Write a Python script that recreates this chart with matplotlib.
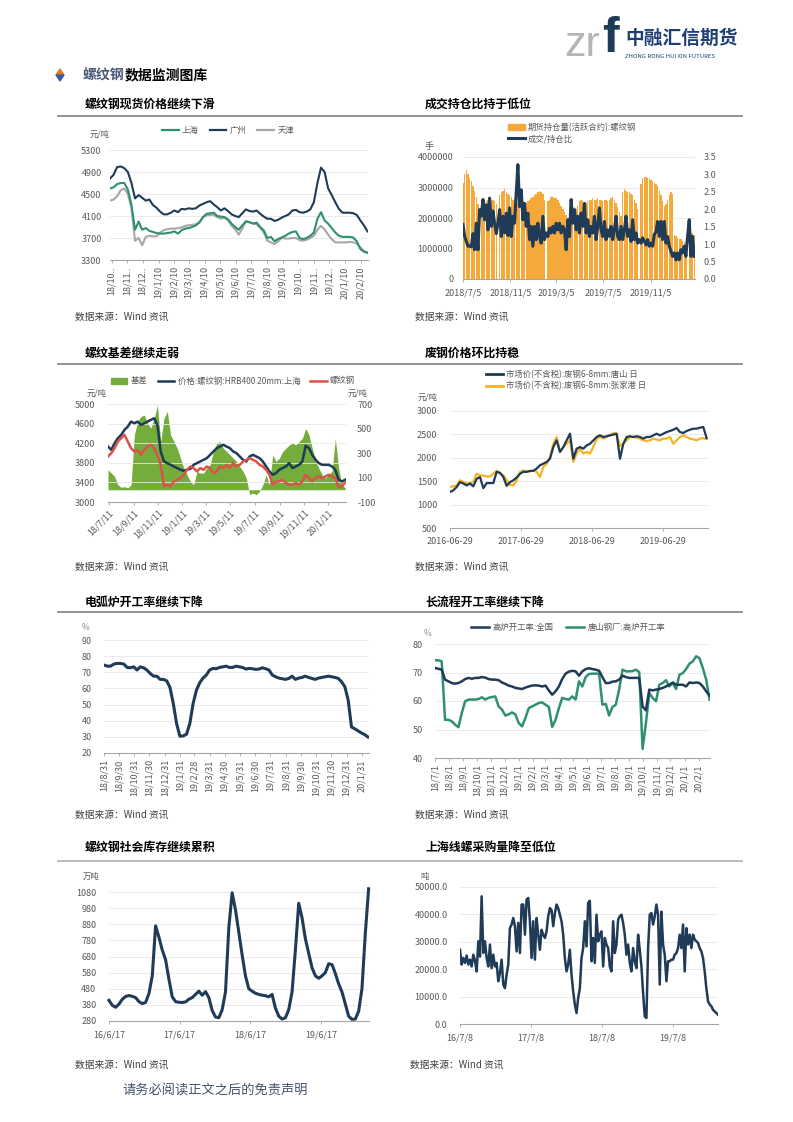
import numpy as np
import pandas as pd
import matplotlib
matplotlib.use("Agg")
import matplotlib.pyplot as plt
import matplotlib.dates as mdates
from matplotlib.lines import Line2D
from matplotlib.patches import Patch, Polygon
from matplotlib.ticker import FuncFormatter

plt.rcParams["font.family"] = ["Noto Sans CJK SC", "DejaVu Sans"]
plt.rcParams["axes.unicode_minus"] = False

# ---------------------------------------------------------------- colours
NAVY = "#1f3b57"
TEAL = "#2f8f74"
LGREY = "#a8a8a8"
ORANGE = "#f4a93a"
GOLD = "#f5b324"
GREEN = "#74ad3c"
RED = "#d9534a"
GRID = "#e6e6e6"
AXIS = "#a6a6a6"
TICK = "#595959"

# ---------------------------------------------------------------- data
# 1. rebar spot price, weekly (yuan/t)
p1_start, p1_end = "2018-10-07", "2020-02-23"
p1_guangzhou = [4780, 4850, 4990, 5000, 4970, 4900, 4700, 4420, 4480, 4430,
                4380, 4400, 4300, 4250, 4180, 4130, 4130, 4160, 4200, 4170,
                4230, 4220, 4240, 4230, 4240, 4290, 4320, 4350, 4370, 4310,
                4260, 4200, 4240, 4190, 4130, 4100, 4080, 4150, 4220, 4190,
                4180, 4200, 4140, 4090, 4050, 4050, 4010, 4030, 4070, 4100,
                4130, 4200, 4210, 4170, 4160, 4180, 4220, 4350, 4700, 4980,
                4900, 4600, 4480, 4350, 4230, 4160, 4160, 4160, 4150, 4120,
                4020, 3930, 3820]
p1_shanghai = [4600, 4620, 4680, 4700, 4700, 4580, 4300, 3850, 4000, 3850,
               3880, 3830, 3810, 3790, 3780, 3780, 3790, 3800, 3820, 3780,
               3840, 3870, 3880, 3900, 3930, 3980, 4080, 4140, 4150, 4160,
               4100, 4090, 4080, 4040, 3960, 3900, 3850, 3930, 4000, 3990,
               3960, 3980, 3900, 3840, 3700, 3720, 3640, 3680, 3710, 3740,
               3780, 3810, 3820, 3700, 3680, 3700, 3740, 3800, 4050, 4170,
               4020, 3960, 3880, 3800, 3740, 3720, 3720, 3720, 3710, 3640,
               3500, 3450, 3430]
p1_tianjin = [4380, 4400, 4460, 4570, 4600, 4500, 4250, 3650, 3700, 3570,
              3720, 3740, 3730, 3730, 3800, 3840, 3860, 3870, 3870, 3880,
              3890, 3920, 3930, 3940, 3950, 3990, 4080, 4110, 4120, 4120,
              4080, 4050, 4070, 4020, 3920, 3860, 3760, 3870, 4010, 3980,
              3970, 3950, 3880, 3800, 3650, 3620, 3590, 3640, 3700, 3690,
              3690, 3700, 3700, 3660, 3650, 3670, 3700, 3740, 3850, 3920,
              3860, 3760, 3680, 3620, 3620, 3620, 3620, 3630, 3620, 3600,
              3530, 3460, 3440]
p1_ticks = ["2018-10-10", "2018-11-10", "2018-12-10", "2019-01-10", "2019-02-10",
            "2019-03-10", "2019-04-10", "2019-05-10", "2019-06-10", "2019-07-10",
            "2019-08-10", "2019-09-10", "2019-10-10", "2019-11-10", "2019-12-10",
            "2020-01-10", "2020-02-10"]
p1_labels = ["18/10..", "18/11..", "18/12..", "19/1/10", "19/2/10", "19/3/10",
             "19/4/10", "19/5/10", "19/6/10", "19/7/10", "19/8/10", "19/9/10",
             "19/10..", "19/11..", "19/12..", "20/1/10", "20/2/10"]

# 2. open interest (million lots) and volume / open-interest ratio
p2_start, p2_end = "2018-07-05", "2020-02-26"
p2_oi_m = [3.15, 3.45, 3.58, 3.45, 3.3, 3.2, 3.05, 2.9, 2.7, 2.45,
           2.1, 2.0, 2.45, 2.5, 2.55, 2.6, 2.65, 2.6, 2.6, 2.55,
           2.45, 0, 2.75, 2.85, 2.9, 2.95, 2.85, 2.8, 2.75, 2.7,
           2.6, 2.65, 2.55, 2.5, 2.4, 2.35, 2.3, 2.25, 2.5, 2.55,
           2.6, 2.65, 2.7, 2.75, 2.8, 2.85, 2.9, 2.85, 2.8, 2.6,
           0, 2.55, 2.6, 2.7, 2.7, 2.65, 2.65, 2.6, 2.5, 2.4,
           2.3, 2.2, 2.1, 2.0, 2.35, 2.4, 2.4, 2.35, 2.3, 2.4,
           2.55, 2.6, 2.55, 2.5, 2.5, 2.55, 2.6, 2.6, 2.65, 2.6,
           2.6, 2.65, 2.6, 2.6, 2.55, 2.6, 2.6, 2.55, 2.6, 2.65,
           2.7, 2.6, 2.5, 2.35, 2.2, 2.05, 2.85, 2.95, 2.9, 2.85,
           2.85, 2.8, 2.75, 2.6, 2.5, 2.3, 0, 3.1, 3.3, 3.35,
           3.35, 3.3, 3.3, 3.25, 3.2, 3.15, 3.1, 3.05, 2.9, 2.75,
           2.55, 2.4, 2.45, 2.6, 2.75, 2.85, 2.8, 1.45, 1.4, 1.35,
           1.3, 1.3, 1.25, 1.2, 1.15, 0, 1.45, 1.5, 1.5, 1.45]
p2_ratio = [1.56, 1.22, 1.08, 0.94, 0.95, 0.92, 1.3, 0.84, 1.6, 0.84,
            1.99, 1.8, 2.28, 1.7, 2.13, 1.41, 2.32, 1.51, 1.95, 1.6,
            1.3, 1.6, 1.99, 1.22, 1.8, 1.32, 1.89, 1.25, 2.04, 1.22,
            1.8, 1.6, 2.47, 3.28, 2.08, 2.56, 1.7, 2.17, 1.51, 1.89,
            1.13, 1.51, 0.94, 1.51, 1.13, 1.6, 1.22, 1.03, 1.8, 1.13,
            1.32, 1.22, 1.46, 1.32, 1.51, 1.32, 1.6, 1.41, 1.6, 1.32,
            1.51, 1.41, 0.84, 1.7, 1.22, 2.28, 1.6, 1.99, 1.41, 1.8,
            1.32, 1.89, 1.51, 2.17, 1.32, 1.7, 1.22, 1.51, 1.32, 1.8,
            1.13, 1.51, 2.04, 1.41, 1.22, 1.65, 1.13, 1.41, 1.22, 1.51,
            1.13, 1.41, 1.8, 1.22, 1.13, 1.51, 1.13, 1.41, 1.8, 1.22,
            1.41, 1.08, 1.7, 1.13, 1.32, 1.03, 1.13, 1.03, 1.18, 1.08,
            0.98, 1.13, 0.94, 1.03, 0.94, 1.27, 1.36, 1.65, 1.22, 1.65,
            1.13, 1.65, 1.03, 1.22, 0.94, 0.8, 0.65, 0.75, 0.55, 0.75,
            0.55, 0.84, 0.75, 0.94, 0.65, 1.22, 1.7, 0.65, 1.22, 0.65]
p2_ticks = ["2018-07-05", "2018-11-05", "2019-03-05", "2019-07-05", "2019-11-05"]
p2_labels = ["2018/7/5", "2018/11/5", "2019/3/5", "2019/7/5", "2019/11/5"]

# 3. basis (right axis) and spot / futures price (left axis)
p3_start, p3_end = "2018-07-09", "2020-02-22"
p3_basis = [163, 136, 109, 41, 20, 25, 15, 40, 448, 560,
            597, 610, 543, 502, 583, 690, 394, 583, 640, 448,
            394, 339, 258, 177, 122, 68, 41, 150, 136, 136,
            177, 204, 312, 380, 394, 339, 312, 285, 258, 231,
            190, 150, 95, -40, -27, -40, -13, 41, 122, 41,
            285, 231, 258, 312, 339, 366, 380, 366, 394, 421,
            500, 448, 339, 231, 177, 122, 95, 122, 150, 421,
            177, 41, 14]
p3_spot = [4132, 4064, 4200, 4302, 4370, 4471, 4539, 4641, 4607, 4641,
           4573, 4607, 4641, 4675, 4709, 4573, 4031, 3827, 3793, 3759,
           3725, 3692, 3658, 3637, 3658, 3678, 3759, 3793, 3827, 3861,
           3895, 3963, 4031, 4098, 4132, 4166, 4132, 4098, 4031, 3997,
           3929, 3861, 3827, 3929, 3963, 3929, 3895, 3827, 3725, 3624,
           3556, 3590, 3658, 3692, 3725, 3793, 3692, 3725, 3759, 3827,
           4150, 4100, 3963, 3861, 3793, 3759, 3759, 3759, 3725, 3658,
           3454, 3420, 3454]
p3_fut = [3929, 3997, 4098, 4234, 4302, 4370, 4234, 4098, 4031, 4064,
          3963, 4064, 4132, 4166, 4098, 3963, 3759, 3319, 3353, 3319,
          3420, 3454, 3488, 3556, 3658, 3725, 3692, 3624, 3692, 3658,
          3725, 3692, 3590, 3624, 3725, 3692, 3759, 3692, 3793, 3725,
          3759, 3827, 3861, 3895, 3861, 3827, 3759, 3725, 3658, 3556,
          3353, 3420, 3420, 3454, 3387, 3353, 3353, 3387, 3353, 3420,
          3556, 3488, 3420, 3488, 3522, 3488, 3522, 3556, 3522, 3488,
          3300, 3319, 3400]
p3_ticks = ["2018-07-11", "2018-09-11", "2018-11-11", "2019-01-11", "2019-03-11",
            "2019-05-11", "2019-07-11", "2019-09-11", "2019-11-11", "2020-01-11"]
p3_labels = ["18/7/11", "18/9/11", "18/11/11", "19/1/11", "19/3/11",
             "19/5/11", "19/7/11", "19/9/11", "19/11/11", "20/1/11"]

# 4. scrap steel price, Tangshan and Zhangjiagang
p4_start, p4_end = "2016-06-29", "2020-02-08"
p4_tangshan = [1270, 1305, 1376, 1480, 1450, 1410, 1450, 1390, 1550, 1590,
               1350, 1460, 1460, 1460, 1700, 1680, 1590, 1400, 1480, 1520,
               1580, 1660, 1700, 1700, 1720, 1720, 1770, 1840, 1875, 1910,
               1980, 2230, 2373, 2125, 2230, 2373, 2515, 1980, 2195, 2230,
               2195, 2265, 2300, 2373, 2445, 2480, 2445, 2460, 2480, 2495,
               2515, 1980, 2300, 2445, 2460, 2445, 2460, 2445, 2410, 2445,
               2445, 2480, 2515, 2480, 2515, 2550, 2573, 2600, 2637, 2550,
               2530, 2573, 2600, 2622, 2622, 2644, 2658, 2420]
p4_zhangjiagang = [1376, 1390, 1410, 1520, 1485, 1450, 1460, 1485, 1660, 1625,
                   1625, 1600, 1600, 1660, 1725, 1660, 1625, 1520, 1425, 1410,
                   1520, 1700, 1730, 1710, 1710, 1730, 1700, 1590, 1805, 1875,
                   2020, 2300, 2445, 2125, 2230, 2300, 2373, 1910, 2090, 2195,
                   2090, 2125, 2090, 2230, 2410, 2445, 2410, 2445, 2480, 2530,
                   2515, 2250, 2300, 2373, 2445, 2445, 2430, 2410, 2373, 2360,
                   2373, 2410, 2390, 2373, 2410, 2410, 2445, 2300, 2373, 2445,
                   2480, 2445, 2410, 2395, 2373, 2410, 2420, 2400]
p4_ticks = ["2016-06-29", "2017-06-29", "2018-06-29", "2019-06-29"]

# 5. electric arc furnace operating rate (%)
p5_start, p5_end = "2018-08-31", "2020-02-12"
p5_eaf = [74.5, 73.8, 73.8, 75.1, 75.5, 75.5, 75.1, 73.0, 72.8, 73.4,
          71.4, 73.4, 72.8, 71.4, 69.3, 67.6, 67.6, 65.6, 65.6, 64.7,
          60.6, 50.6, 38.2, 30.4, 30.6, 31.6, 38.2, 50.6, 58.9, 63.5,
          66.4, 68.3, 71.4, 72.4, 72.2, 73.0, 73.4, 73.8, 73.0, 73.0,
          73.8, 73.4, 73.0, 72.0, 72.4, 72.2, 71.8, 72.0, 72.8, 72.2,
          71.4, 68.3, 67.2, 66.4, 66.0, 65.6, 66.2, 67.6, 65.6, 66.4,
          66.8, 67.6, 66.8, 66.2, 65.6, 66.4, 66.8, 67.2, 67.6, 67.2,
          66.8, 66.2, 64.1, 61.0, 52.7, 36.1, 35.0, 33.7, 32.4, 31.4,
          29.9]
p5_ticks = ["2018-08-31", "2018-09-30", "2018-10-31", "2018-11-30", "2018-12-31",
            "2019-01-31", "2019-02-28", "2019-03-31", "2019-04-30", "2019-05-31",
            "2019-06-30", "2019-07-31", "2019-08-31", "2019-09-30", "2019-10-31",
            "2019-11-30", "2019-12-31", "2020-01-31"]
p5_labels = ["18/8/31", "18/9/30", "18/10/31", "18/11/30", "18/12/31", "19/1/31",
             "19/2/28", "19/3/31", "19/4/30", "19/5/31", "19/6/30", "19/7/31",
             "19/8/31", "19/9/30", "19/10/31", "19/11/30", "19/12/31", "20/1/31"]

# 6. blast furnace operating rate (%): national and Tangshan
p6_start, p6_end = "2018-07-01", "2020-02-25"
p6_national = [71.6, 71.3, 71.0, 67.5, 66.9, 66.3, 66.1, 66.3, 66.9, 67.7,
               68.1, 67.8, 68.1, 68.1, 68.4, 68.2, 67.7, 67.5, 67.5, 67.3,
               66.5, 66.0, 65.4, 65.1, 64.6, 64.4, 64.2, 64.7, 65.1, 65.4,
               65.5, 65.4, 65.1, 65.4, 63.7, 62.2, 63.4, 65.1, 67.7, 69.6,
               70.3, 70.6, 70.4, 68.9, 70.4, 71.2, 71.5, 71.2, 71.0, 70.6,
               68.4, 66.3, 66.3, 66.8, 66.9, 67.5, 68.9, 68.4, 68.1, 68.1,
               68.1, 68.1, 58.1, 56.7, 64.0, 63.7, 64.0, 64.2, 64.6, 65.1,
               65.7, 66.5, 65.7, 65.7, 65.7, 65.1, 66.5, 66.3, 66.5, 66.3,
               65.1, 63.4, 61.9]
p6_tangshan = [74.3, 74.3, 73.9, 53.4, 53.4, 52.9, 51.7, 50.8, 55.8, 59.9,
               60.5, 60.5, 60.5, 60.7, 61.3, 60.5, 61.1, 61.4, 61.6, 58.1,
               57.0, 54.9, 55.3, 56.0, 55.3, 52.3, 51.1, 54.0, 57.5, 58.1,
               58.7, 59.3, 59.5, 58.7, 57.9, 50.9, 53.4, 57.5, 61.1, 60.7,
               60.5, 61.6, 60.5, 66.9, 65.1, 68.4, 69.5, 69.6, 69.6, 69.6,
               58.7, 59.0, 54.9, 57.9, 58.7, 64.0, 71.0, 70.4, 70.4, 70.5,
               71.0, 70.1, 43.2, 52.3, 62.8, 61.1, 59.9, 65.7, 66.3, 67.3,
               65.1, 66.3, 64.2, 69.2, 69.8, 71.2, 73.1, 73.9, 75.7, 75.0,
               71.5, 67.5, 60.5]
p6_ticks = ["2018-07-01", "2018-08-01", "2018-09-01", "2018-10-01", "2018-11-01",
            "2018-12-01", "2019-01-01", "2019-02-01", "2019-03-01", "2019-04-01",
            "2019-05-01", "2019-06-01", "2019-07-01", "2019-08-01", "2019-09-01",
            "2019-10-01", "2019-11-01", "2019-12-01", "2020-01-01", "2020-02-01"]
p6_labels = ["18/7/1", "18/8/1", "18/9/1", "18/10/1", "18/11/1", "18/12/1",
             "19/1/1", "19/2/1", "19/3/1", "19/4/1", "19/5/1", "19/6/1",
             "19/7/1", "19/8/1", "19/9/1", "19/10/1", "19/11/1", "19/12/1",
             "20/1/1", "20/2/1"]

# 7. rebar social inventory (10k t)
p7_start, p7_end = "2016-06-17", "2020-02-18"
p7_stock = [408, 377, 365, 385, 415, 432, 438, 433, 425, 400,
            388, 395, 450, 560, 870, 800, 720, 660, 540, 430,
            400, 396, 395, 398, 415, 425, 445, 465, 440, 462,
            425, 345, 305, 300, 350, 460, 860, 1075, 970, 830,
            690, 560, 480, 465, 452, 445, 440, 437, 430, 445,
            360, 310, 292, 300, 350, 460, 720, 1010, 920, 790,
            700, 610, 560, 545, 560, 580, 635, 630, 575, 510,
            460, 385, 310, 290, 292, 340, 480, 820, 1100]
p7_ticks = ["2016-06-17", "2017-06-17", "2018-06-17", "2019-06-17"]
p7_labels = ["16/6/17", "17/6/17", "18/6/17", "19/6/17"]

# 8. Shanghai wire-rod & rebar purchase volume (t)
p8_start, p8_end = "2016-07-08", "2020-02-24"
p8_buy = [27100, 21700, 24100, 22300, 25000, 21700, 23500, 21000, 25300, 23100,
          19200, 30200, 24600, 46600, 25900, 30200, 24100, 21000, 29000, 20400,
          25300, 21000, 22300, 15600, 18600, 23500, 14400, 13100, 18000, 21700,
          35000, 36300, 38700, 35700, 26500, 36900, 25900, 43600, 43600, 32600,
          45400, 46000, 37500, 24100, 37500, 23500, 38700, 32600, 27100, 34400,
          32600, 31400, 33800, 39300, 42300, 41600, 35700, 40400, 43600, 42300,
          39900, 37500, 32600, 24100, 19200, 21700, 27100, 18000, 11900, 7100,
          4000, 9500, 13100, 24100, 27700, 37500, 28300, 44200, 45000, 22900,
          31400, 22300, 39900, 30200, 32600, 33800, 21000, 31400, 29000, 27700,
          21000, 19200, 37500, 25900, 29000, 38100, 39300, 39900, 36900, 32600,
          25300, 29000, 22300, 19200, 27700, 22900, 20400, 32600, 27100, 21000,
          11300, 2800, 2200, 27700, 39900, 40500, 36300, 39300, 43600, 39900,
          14400, 41000, 29000, 25300, 15600, 22900, 22900, 23500, 23500, 25300,
          25900, 27700, 32600, 27700, 36300, 19200, 35000, 29000, 32600, 27700,
          32600, 30800, 30200, 29600, 27700, 26500, 24100, 19200, 13100, 8300,
          7100, 6500, 5200, 4600, 4000, 3400]
p8_ticks = ["2016-07-08", "2017-07-08", "2018-07-08", "2019-07-08"]
p8_labels = ["16/7/8", "17/7/8", "18/7/8", "19/7/8"]

# ---------------------------------------------------------------- page
W, H = 793, 1122
fig = plt.figure(figsize=(W / 100, H / 100), dpi=100)
fig.patch.set_facecolor("white")


def dn(dates):
    return mdates.date2num(pd.to_datetime(dates).values)


def dgrid(start, end, n):
    return mdates.date2num(pd.date_range(start, end, periods=n).values)


def ptext(x, y, s, **kw):
    kw.setdefault("va", "center")
    return fig.text(x / W, 1 - y / H, s, **kw)


def hline(y, x0=58, x1=742, color="#7f7f7f", lw=1.2):
    fig.add_artist(Line2D([x0 / W, x1 / W], [1 - y / H, 1 - y / H],
                          transform=fig.transFigure, color=color, lw=lw))


def panel(x0, y0, x1, y1, ypad=7):
    ax = fig.add_axes([x0 / W, 1 - y1 / H, (x1 - x0) / W, (y1 - y0) / H])
    for s in ("left", "right", "top"):
        ax.spines[s].set_visible(False)
    ax.spines["bottom"].set_color(AXIS)
    ax.spines["bottom"].set_linewidth(0.8)
    ax.grid(axis="y", color=GRID, lw=0.6)
    ax.set_axisbelow(True)
    ax.tick_params(axis="y", length=0, labelsize=6.5, labelcolor=TICK, pad=ypad)
    ax.tick_params(axis="x", length=2.5, width=0.6, color=AXIS,
                   labelsize=6.5, labelcolor=TICK, pad=2)
    return ax


def xdates(ax, ticks, labels, lo, hi, rot=0):
    ax.set_xticks(dn(ticks))
    ax.set_xticklabels(labels, rotation=rot)
    ax.set_xlim(dn([lo])[0], dn([hi])[0])


def leg(handles, labels, x, y, loc="center", ncol=1, **kw):
    fig.legend(handles, labels, loc=loc, bbox_to_anchor=(x / W, 1 - y / H),
               ncol=ncol, frameon=False, fontsize=6, labelcolor=TICK,
               handletextpad=0.4, borderaxespad=0, borderpad=0, **kw)


def source(x, y):
    ptext(x, y, "数据来源：Wind 资讯", fontsize=7, color="#404040")


# ---------------------------------------------------------------- header
ptext(564, 45, "zr", fontsize=31, color="#b5b5b5", family="Liberation Sans")
ptext(602, 39, "f", fontsize=36, color=NAVY, family="Liberation Sans", weight="bold")
ptext(625, 38, "中融汇信期货", fontsize=13.5, color="#1f3f73", weight="bold")
ptext(625, 57, "ZHONG RONG HUI XIN FUTURES", fontsize=4.3, color="#1f3f73")

icon_top = Polygon([[56 / W, 1 - 75 / H], [60 / W, 1 - 69 / H], [64 / W, 1 - 75 / H]],
                   closed=True, transform=fig.transFigure, color="#e07b2a")
icon_bot = Polygon([[56 / W, 1 - 75 / H], [60 / W, 1 - 81 / H], [64 / W, 1 - 75 / H]],
                   closed=True, transform=fig.transFigure, color="#3b5ba5")
fig.add_artist(icon_top)
fig.add_artist(icon_bot)
t0 = ptext(83, 75, "螺纹钢", fontsize=10, color="#4a5a78", weight="bold")
fig.canvas.draw()
bb = t0.get_window_extent()
fig.text(bb.x1 / W, 1 - 75 / H, "数据监测图库", fontsize=10, color="black",
         weight="bold", va="center")

# titles and rules
for (x, y, s) in [(85, 104, "螺纹钢现货价格继续下滑"), (425, 104, "成交持仓比持于低位"),
                  (85, 353, "螺纹基差继续走弱"), (425, 353, "废钢价格环比持稳"),
                  (85, 602, "电弧炉开工率继续下降"), (425, 602, "长流程开工率继续下降"),
                  (85, 847, "螺纹钢社会库存继续累积"), (425, 847, "上海线螺采购量降至低位")]:
    ptext(x, y, s, fontsize=8.6, weight="bold", color="black")
hline(116)
hline(364)
hline(612)
hline(861, color="#b0b0b0")

# ---------------------------------------------------------------- 1
ax = panel(110, 150, 368, 260, ypad=6)
x = dgrid(p1_start, p1_end, len(p1_guangzhou))
ax.plot(x, p1_tianjin, color=LGREY, lw=1.5)
ax.plot(x, p1_shanghai, color=TEAL, lw=1.5)
ax.plot(x, p1_guangzhou, color=NAVY, lw=1.5)
ax.set_ylim(3300, 5300)
ax.set_yticks(np.arange(3300, 5301, 400))
xdates(ax, p1_ticks, p1_labels, "2018-10-07", "2020-02-24", rot=90)
ptext(90, 134, "元/吨", fontsize=6, color=TICK)
leg([Line2D([], [], color=TEAL, lw=1.6), Line2D([], [], color=NAVY, lw=1.6),
     Line2D([], [], color=LGREY, lw=1.6)], ["上海", "广州", "天津"], 228, 130,
    ncol=3, handlelength=2.0, columnspacing=1.3)
source(75, 317)

# ---------------------------------------------------------------- 2
ax = panel(463, 157, 695, 279, ypad=7)
x = dgrid(p2_start, p2_end, len(p2_oi_m))
step = (x[-1] - x[0]) / (len(x) - 1)
ax.bar(x, np.array(p2_oi_m) * 1e6, width=step * 0.85, color=ORANGE, lw=0)
ax.set_ylim(0, 4e6)
ax.set_yticks(np.arange(0, 4e6 + 1, 1e6))
ax.yaxis.set_major_formatter(FuncFormatter(lambda v, p: f"{v:.0f}"))
xdates(ax, p2_ticks, p2_labels, "2018-07-05", "2020-02-28")
ax.tick_params(axis="x", pad=4)
ax2 = ax.twinx()
for s in ax2.spines.values():
    s.set_visible(False)
ax2.plot(x, p2_ratio, color=NAVY, lw=2.2)
ax2.set_ylim(0, 3.5)
ax2.set_yticks(np.arange(0, 3.51, 0.5))
ax2.yaxis.set_major_formatter(FuncFormatter(lambda v, p: f"{v:.1f}"))
ax2.tick_params(axis="y", length=0, labelsize=6.5, labelcolor=TICK, pad=6)
ptext(429, 146, "手", fontsize=6.5, color=TICK, ha="center")
leg([Patch(color=ORANGE), Line2D([], [], color=NAVY, lw=2.2)],
    ["期货持仓量(活跃合约):螺纹钢", "成交/持仓比"], 508, 123, loc="upper left",
    handlelength=2.0, labelspacing=0.25)
source(415, 317)

# ---------------------------------------------------------------- 3
ax = panel(108, 404, 346, 502, ypad=9)
x = dgrid(p3_start, p3_end, len(p3_spot))
ax.set_ylim(3000, 5000)
ax.set_yticks(np.arange(3000, 5001, 400))
ax2 = ax.twinx()
for s in ax2.spines.values():
    s.set_visible(False)
ax2.fill_between(x, 0, p3_basis, color=GREEN, lw=0)
ax2.set_ylim(-100, 700)
ax2.set_yticks(np.arange(-100, 701, 200))
ax2.tick_params(axis="y", length=0, labelsize=6.5, labelcolor=TICK, pad=8)
ax.set_zorder(ax2.get_zorder() + 1)
ax.patch.set_visible(False)
ax.plot(x, p3_spot, color=NAVY, lw=1.8)
ax.plot(x, p3_fut, color=RED, lw=1.8)
ax.set_xticks(dn(p3_ticks))
ax.set_xticklabels(p3_labels, rotation=45, ha="right", rotation_mode="anchor")
ax.set_xlim(dn(["2018-07-09"])[0], dn(["2020-02-24"])[0])
ptext(97, 393, "元/吨", fontsize=6, color=TICK, ha="center")
ptext(358, 393, "元/吨", fontsize=6, color=TICK, ha="center")
leg([Patch(color=GREEN), Line2D([], [], color=NAVY, lw=1.8),
     Line2D([], [], color=RED, lw=1.8)],
    ["基差", "价格:螺纹钢:HRB400 20mm:上海", "螺纹钢"], 233, 381,
    ncol=3, handlelength=2.0, columnspacing=1.2)
source(75, 567)

# ---------------------------------------------------------------- 4
ax = panel(450, 411, 708, 528, ypad=9)
x = dgrid(p4_start, p4_end, len(p4_tangshan))
ax.plot(x, p4_zhangjiagang, color=GOLD, lw=1.6)
ax.plot(x, p4_tangshan, color=NAVY, lw=1.6)
ax.set_ylim(500, 3000)
ax.set_yticks(np.arange(500, 3001, 500))
xdates(ax, p4_ticks, p4_ticks, "2016-06-29", "2020-02-15")
ax.tick_params(axis="x", pad=4)
ptext(428, 397, "元/吨", fontsize=6, color=TICK, ha="center")
leg([Line2D([], [], color=NAVY, lw=2), Line2D([], [], color=GOLD, lw=2)],
    ["市场价(不含税):废钢6-8mm:唐山 日", "市场价(不含税):废钢6-8mm:张家港 日"],
    486, 370, loc="upper left", handlelength=2.0, labelspacing=0.25)
source(415, 567)

# ---------------------------------------------------------------- 5
ax = panel(104, 640, 369, 753, ypad=9)
x = dgrid(p5_start, p5_end, len(p5_eaf))
ax.plot(x, p5_eaf, color=NAVY, lw=2.2)
ax.set_ylim(20, 90)
ax.set_yticks(np.arange(20, 91, 10))
xdates(ax, p5_ticks, p5_labels, "2018-08-31", "2020-02-14", rot=90)
ptext(86, 627, "%", fontsize=6, color="#8c8c8c", ha="center")
source(75, 815)

# ---------------------------------------------------------------- 6
ax = panel(435, 644, 710, 758, ypad=9)
x = dgrid(p6_start, p6_end, len(p6_national))
ax.plot(x, p6_tangshan, color=TEAL, lw=1.8)
ax.plot(x, p6_national, color=NAVY, lw=1.8)
ax.set_ylim(40, 80)
ax.set_yticks(np.arange(40, 81, 10))
xdates(ax, p6_ticks, p6_labels, "2018-07-01", "2020-02-26", rot=90)
ptext(427, 633, "%", fontsize=6, color="#8c8c8c", ha="center")
leg([Line2D([], [], color=NAVY, lw=1.8), Line2D([], [], color=TEAL, lw=1.8)],
    ["高炉开工率:全国", "唐山钢厂:高炉开工率"], 568, 627, ncol=2,
    handlelength=2.2, columnspacing=1.5)
source(415, 815)

# ---------------------------------------------------------------- 7
ax = panel(109, 892, 369, 1021, ypad=9)
x = dgrid(p7_start, p7_end, len(p7_stock))
ax.plot(x, p7_stock, color=NAVY, lw=2.2, clip_on=False)
ax.set_ylim(280, 1080)
ax.set_yticks(np.arange(280, 1081, 100))
xdates(ax, p7_ticks, p7_labels, "2016-06-17", "2020-02-20")
ax.tick_params(axis="x", pad=4)
ptext(91, 876, "万吨", fontsize=6, color=TICK, ha="center")
source(75, 1065)

# ---------------------------------------------------------------- 8
ax = panel(460, 887, 718, 1024, ypad=9)
x = dgrid(p8_start, p8_end, len(p8_buy))
ax.plot(x, p8_buy, color=NAVY, lw=1.8)
ax.set_ylim(0, 50000)
ax.set_yticks(np.arange(0, 50001, 10000))
ax.yaxis.set_major_formatter(FuncFormatter(lambda v, p: f"{v:.1f}"))
xdates(ax, p8_ticks, p8_labels, "2016-07-08", "2020-02-24")
ax.tick_params(axis="x", pad=4)
ptext(425, 876, "吨", fontsize=6, color=TICK, ha="center")
source(410, 1065)

# ---------------------------------------------------------------- footer
ptext(122, 1091, "请务必阅读正文之后的免责声明", fontsize=9.5, color="#44546a")

fig.savefig("out.png", dpi=100)
